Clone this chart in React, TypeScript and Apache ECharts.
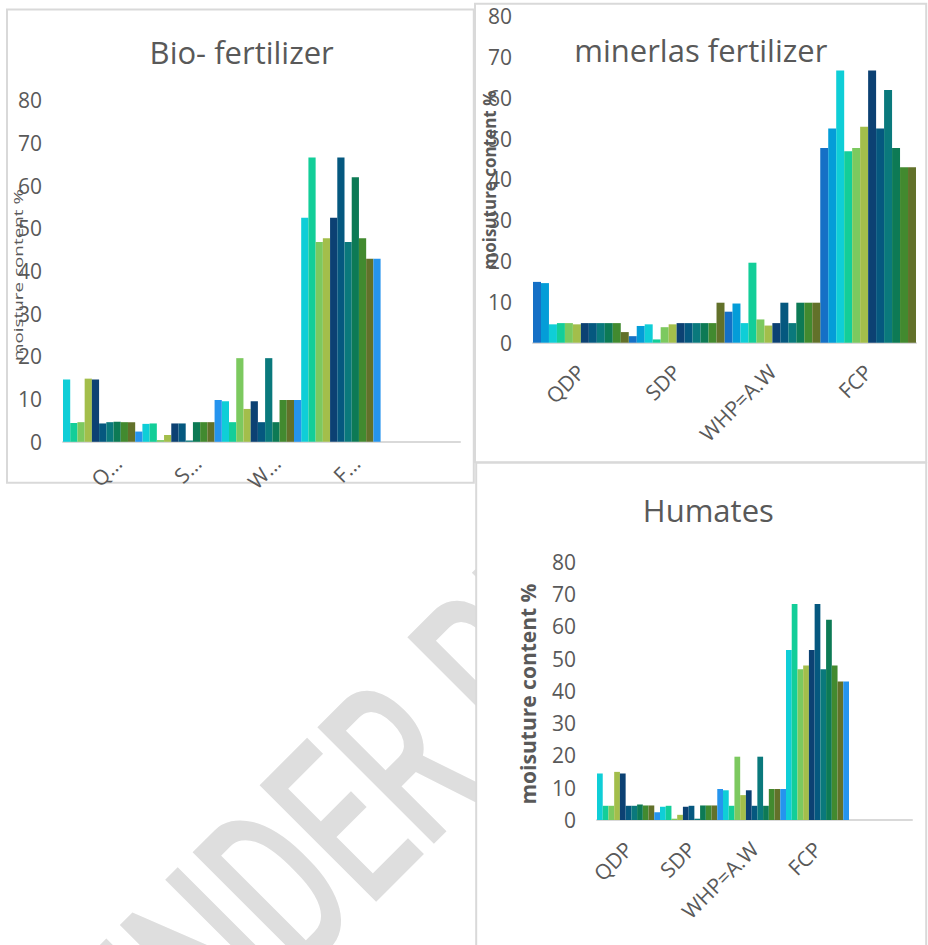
import React, { useEffect, useRef } from "react";
import * as echarts from "echarts";

// ---------- data ----------
const categories = ["QDP", "SDP", "WHP=A.W", "FCP"];
const paddedCategories = ["QDP", "SDP", "WHP=A.W", "FCP", ""];

// Bio-fertilizer (11 bars per category)
const bioQDP = [14.6, 4.4, 4.6, 14.8, 14.6, 4.3, 4.6, 4.7, 4.6, 4.6, 2.4];
const bioSDP = [4.2, 4.3, 0.4, 1.6, 4.3, 4.3, 0.3, 4.6, 4.6, 4.6, 9.8];
const bioWHP = [9.5, 4.6, 19.6, 7.7, 9.5, 4.6, 19.6, 4.6, 9.8, 9.8, 9.8];
const bioFCP = [52.5, 66.6, 46.8, 47.7, 52.5, 66.6, 46.8, 62.0, 47.7, 42.9, 42.9];

// minerlas fertilizer (12 bars per category)
const minQDP = [14.9, 14.6, 4.5, 4.8, 4.8, 4.5, 4.8, 4.8, 4.8, 4.8, 4.8, 2.6];
const minSDP = [1.6, 4.1, 4.5, 0.8, 3.8, 4.5, 4.8, 4.8, 4.8, 4.8, 4.8, 9.8];
const minWHP = [7.6, 9.6, 4.8, 19.6, 5.7, 4.2, 4.8, 9.8, 4.8, 9.8, 9.8, 9.8];
const minFCP = [47.7, 52.5, 66.7, 46.9, 47.7, 52.9, 66.7, 52.5, 61.9, 47.7, 43.0, 43.0];

// Humates (11 bars per category)
const humQDP = [14.4, 4.4, 4.4, 14.9, 14.4, 4.4, 4.4, 4.8, 4.5, 4.5, 2.4];
const humSDP = [4.1, 4.4, 0.4, 1.6, 4.1, 4.4, 0.4, 4.5, 4.5, 4.5, 9.6];
const humWHP = [9.2, 4.4, 19.6, 7.7, 9.2, 4.4, 19.6, 4.4, 9.6, 9.6, 9.6];
const humFCP = [52.6, 66.9, 46.7, 47.8, 52.6, 66.9, 46.7, 62.0, 47.8, 42.9, 42.9];

const yMin = 0;
const yMax = 80;
const yInterval = 10;

const titles = ["Bio- fertilizer", "minerlas fertilizer", "Humates"];
const yNames = ["moisture content %", "moisuture content %", "moisuture content %"];
const watermarkText = "UNDER REVIEW";

// ---------- styles ----------
const elevenColors = [
  "#0FCED7", "#13CE99", "#7CC95F", "#A3BE4B", "#0C4173", "#05587F",
  "#0A797C", "#0D7A55", "#428A2F", "#62712A", "#2594EE",
];
const twelveColors = [
  "#1570C6", "#049DD8", "#0FCED7", "#13CE99", "#7CC95F", "#A3BE4B",
  "#0C4173", "#05587F", "#0A797C", "#0D7A55", "#428A2F", "#62712A",
];
const TEXT = "#595959";
const BORDER = "#D9D9D9";
const FONT = "Open Sans";

function buildSeries(rows: number[][], colors: string[], idx: number) {
  return colors.map((c, i) => ({
    type: "bar",
    name: `${idx}-${i}`,
    xAxisIndex: idx,
    yAxisIndex: idx,
    data: rows.map((r) => r[i]),
    itemStyle: { color: c },
    barGap: "0%",
    barCategoryGap: "0%",
    silent: true,
  }));
}

function xAxis(idx: number, data: string[], short: boolean) {
  return {
    type: "category",
    gridIndex: idx,
    data,
    axisLine: { lineStyle: { color: BORDER, width: 2 } },
    axisTick: { show: false },
    axisLabel: {
      interval: 0,
      rotate: 45,
      color: TEXT,
      fontSize: 21,
      fontFamily: FONT,
      verticalAlign: short ? "top" : "middle",
      margin: short ? 2.5 : 25.5,
      padding: short ? [11, 0, 0, 0] : 0,
      formatter: (v: string) => (short ? (v ? v[0] + "\u2026" : "") : v),
    },
  };
}

function yAxis(idx: number) {
  return {
    type: "value",
    gridIndex: idx,
    min: yMin,
    max: yMax,
    interval: yInterval,
    axisLine: { show: false },
    axisTick: { show: false },
    splitLine: { show: false },
    axisLabel: { color: TEXT, fontSize: 21, fontFamily: FONT, margin: 21 },
  };
}

export default function App() {
  const ref = useRef<HTMLDivElement>(null);

  useEffect(() => {
    if (!ref.current) return;
    const chart = echarts.init(ref.current, undefined, { renderer: "svg" });

    const bioRows = [bioQDP, bioSDP, bioWHP, bioFCP];
    const minRows = [minQDP, minSDP, minWHP, minFCP];
    const humRows = [humQDP, humSDP, humWHP, humFCP];

    const option: any = {
      animation: false,
      grid: [
        { left: 63, top: 100.4, width: 397, height: 341.4 },
        { left: 533, top: 16.2, width: 383, height: 326.5 },
        { left: 597, top: 561.6, width: 315, height: 258.4 },
      ],
      xAxis: [
        xAxis(0, paddedCategories, true),
        xAxis(1, categories, false),
        xAxis(2, paddedCategories, false),
      ],
      yAxis: [yAxis(0), yAxis(1), yAxis(2)],
      series: [
        ...buildSeries(bioRows, elevenColors, 0),
        ...buildSeries(minRows, twelveColors, 1),
        ...buildSeries(humRows, elevenColors, 2),
      ],
      graphic: [
        {
          type: "text",
          z: -3,
          silent: true,
          x: 106,
          y: 1060,
          rotation: Math.PI / 4,
          scaleY: 1.6,
          style: {
            text: watermarkText,
            fontSize: 145,
            fontWeight: 500,
            fontFamily: "Roboto",
            fill: "#DEDEDE",
            align: "left",
            verticalAlign: "middle",
          },
        },
        {
          type: "rect",
          z: -2,
          silent: true,
          shape: { x: 7, y: 9.5, width: 466.8, height: 473.3 },
          style: { fill: "#fff", stroke: BORDER, lineWidth: 2 },
        },
        {
          type: "rect",
          z: -2,
          silent: true,
          shape: { x: 475, y: 3.7, width: 451.2, height: 458.5 },
          style: { fill: "#fff", stroke: BORDER, lineWidth: 2 },
        },
        {
          type: "rect",
          z: -2,
          silent: true,
          shape: { x: 476.2, y: 462.8, width: 450, height: 500 },
          style: { fill: "#fff", stroke: BORDER, lineWidth: 2 },
        },
        {
          type: "text",
          z: 10,
          x: 241.7,
          y: 52,
          style: { text: titles[0], fontSize: 31, fontFamily: FONT, fill: TEXT, align: "center", verticalAlign: "middle" },
        },
        {
          type: "text",
          z: 10,
          x: 700.8,
          y: 49.7,
          style: { text: titles[1], fontSize: 31, fontFamily: FONT, fill: TEXT, align: "center", verticalAlign: "middle" },
        },
        {
          type: "text",
          z: 10,
          x: 708.3,
          y: 509.7,
          style: { text: titles[2], fontSize: 31, fontFamily: FONT, fill: TEXT, align: "center", verticalAlign: "middle" },
        },
        {
          type: "text",
          z: 10,
          x: 18,
          y: 275,
          rotation: Math.PI / 2,
          scaleX: 1.45,
          style: { text: yNames[0], fontSize: 13, fontFamily: FONT, fill: TEXT, align: "center", verticalAlign: "middle" },
        },
        {
          type: "text",
          z: 10,
          x: 489,
          y: 180,
          rotation: Math.PI / 2,
          style: { text: yNames[1], fontSize: 17, fontWeight: "bold", fontFamily: FONT, fill: TEXT, align: "center", verticalAlign: "middle" },
        },
        {
          type: "text",
          z: 10,
          x: 528,
          y: 694,
          rotation: Math.PI / 2,
          style: { text: yNames[2], fontSize: 21, fontWeight: "bold", fontFamily: FONT, fill: TEXT, align: "center", verticalAlign: "middle" },
        },
      ],
    };

    chart.setOption(option);
    return () => chart.dispose();
  }, []);

  return (
    <div
      ref={ref}
      style={{ position: "fixed", left: 0, top: 0, width: 928, height: 945, background: "#fff" }}
    />
  );
}
